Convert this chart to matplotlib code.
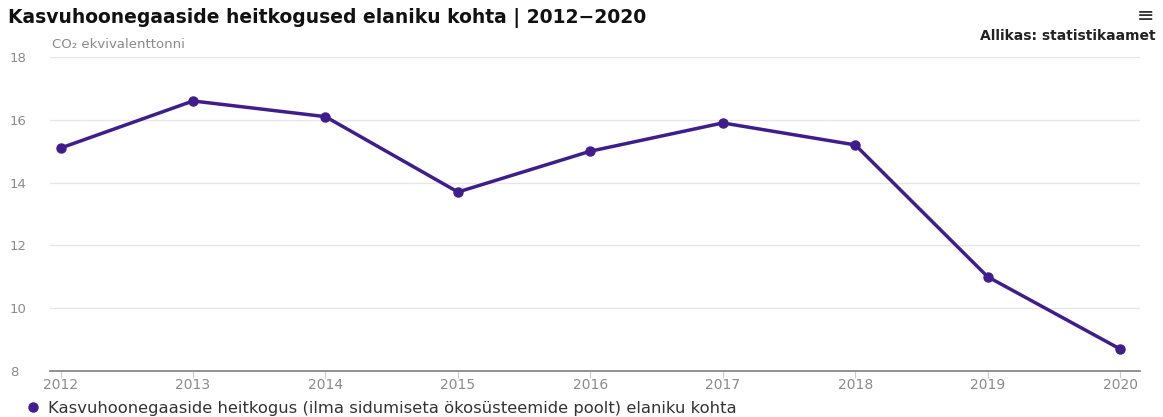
import matplotlib
matplotlib.use('Agg')
import matplotlib.pyplot as plt
from matplotlib.lines import Line2D

# data
years = [2012, 2013, 2014, 2015, 2016, 2017, 2018, 2019, 2020]
emissions = [15.1, 16.6, 16.1, 13.7, 15.0, 15.9, 15.2, 11.0, 8.7]
y_ticks = [8, 10, 12, 14, 16, 18]

TITLE = 'Kasvuhoonegaaside heitkogused elaniku kohta | 2012\u22122020'
SOURCE = 'Allikas: statistikaamet'
UNIT = 'CO\u2082 ekvivalenttonni'
SERIES = 'Kasvuhoonegaaside heitkogus (ilma sidumiseta ökosüsteemide poolt) elaniku kohta'

LINE_COLOR = '#3f1d8c'
GRID_COLOR = '#e6e6e6'
TICK_COLOR = '#8a8a8a'

plt.rcParams['font.family'] = ['DejaVu Sans']

fig = plt.figure(figsize=(11.63, 4.17), dpi=100)
ax = fig.add_axes([50 / 1163, 1 - 371 / 417, 1090 / 1163, 314 / 417])

ax.plot(years, emissions, color=LINE_COLOR, linewidth=2.5, marker='o',
        markersize=6.5, markerfacecolor=LINE_COLOR, markeredgecolor=LINE_COLOR,
        zorder=3, clip_on=False)

ax.set_xlim(2011.92, 2020.15)
ax.set_ylim(8, 18)
ax.set_xticks(years)
ax.set_xticklabels([str(y) for y in years])
ax.set_yticks(y_ticks)

ax.grid(axis='y', color=GRID_COLOR, linewidth=1)
ax.set_axisbelow(True)
for side in ['top', 'right', 'left']:
    ax.spines[side].set_visible(False)
ax.spines['bottom'].set_color('#8a8a8a')
ax.spines['bottom'].set_linewidth(1.3)

ax.tick_params(axis='y', length=0, labelsize=9.5, labelcolor=TICK_COLOR)
ax.tick_params(axis='x', length=5, color='#cccccc', pad=0, labelsize=10,
               labelcolor=TICK_COLOR)
for lbl in ax.get_yticklabels():
    lbl.set_horizontalalignment('left')
ax.yaxis.set_tick_params(pad=29)

# header texts
fig.text(8 / 1163, 1 - 18 / 417, TITLE, fontsize=13.5, fontweight='bold',
         color='#111111', va='center', ha='left')
fig.text(1156 / 1163, 1 - 36 / 417, SOURCE, fontsize=10, fontweight='bold',
         color='#222222', va='center', ha='right')
fig.text(1146 / 1163, 1 - 16 / 417, '\u2261', fontsize=15, color='#333333',
         va='center', ha='center')
fig.text(52 / 1163, 1 - 45 / 417, UNIT, fontsize=9.5, color=TICK_COLOR,
         va='center', ha='left')

# legend at the bottom
handle = Line2D([], [], linestyle='none', marker='o', markersize=6.5,
                color=LINE_COLOR)
fig.legend([handle], [SERIES], loc='center left',
           bbox_to_anchor=(20 / 1163, 1 - 408 / 417), frameon=False,
           fontsize=11.8, handletextpad=0.1, handlelength=1.6,
           borderaxespad=0, borderpad=0, labelcolor='#333333')

fig.savefig('out.png', dpi=100)
